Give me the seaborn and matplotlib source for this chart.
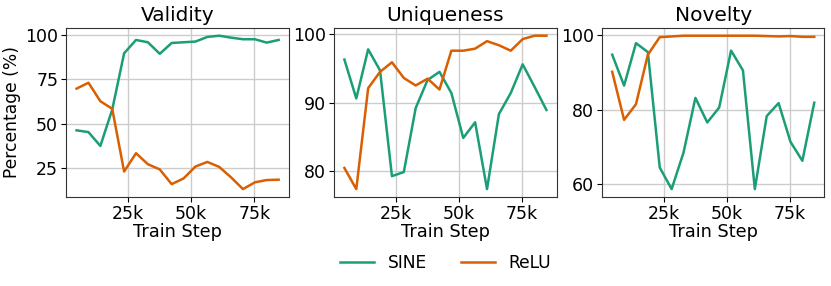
import numpy as np
import pandas as pd
import matplotlib
matplotlib.use("Agg")
import matplotlib.pyplot as plt
import seaborn as sns

# training steps (18 checkpoints)
steps = [4700, 9400, 14100, 18800, 23500, 28200, 32900, 37600, 42300,
         47000, 51700, 56400, 61100, 65800, 70500, 75200, 79900, 84600]

validity_sine = [46.3, 45.3, 37.5, 58.0, 89.7, 97.2, 95.9, 89.4, 95.5,
                 95.9, 96.3, 98.9, 99.6, 98.5, 97.6, 97.6, 95.7, 97.2]
validity_relu = [69.8, 73.1, 62.7, 58.4, 23.1, 33.4, 27.2, 24.3, 16.0,
                 19.2, 25.9, 28.5, 25.7, 19.8, 13.2, 17.0, 18.3, 18.5]

uniqueness_sine = [96.3, 90.6, 97.8, 94.7, 79.2, 79.8, 89.2, 93.3, 94.5,
                   91.4, 84.8, 87.1, 77.3, 88.3, 91.4, 95.6, 92.3, 88.9]
uniqueness_relu = [80.4, 77.3, 92.1, 94.5, 95.9, 93.6, 92.5, 93.5, 91.9,
                   97.6, 97.6, 97.9, 99.0, 98.4, 97.6, 99.3, 99.8, 99.8]

novelty_sine = [94.8, 86.5, 97.9, 95.5, 64.5, 58.7, 68.5, 83.2, 76.6,
                80.6, 95.9, 90.6, 58.7, 78.3, 81.8, 71.4, 66.3, 81.9]
novelty_relu = [90.2, 77.3, 81.5, 94.8, 99.5, 99.7, 99.9, 99.9, 99.9,
                99.9, 99.9, 99.9, 99.9, 99.8, 99.7, 99.8, 99.6, 99.6]

metrics = ['Validity', 'Uniqueness', 'Novelty']
series = {
    'Validity': (validity_sine, validity_relu),
    'Uniqueness': (uniqueness_sine, uniqueness_relu),
    'Novelty': (novelty_sine, novelty_relu),
}

rows = []
for m in metrics:
    sine, relu = series[m]
    for s, a, b in zip(steps, sine, relu):
        rows.append({'metric': m, 'step': s, 'act': 'SINE', 'value': a})
        rows.append({'metric': m, 'step': s, 'act': 'ReLU', 'value': b})
df = pd.DataFrame(rows)

palette = {'SINE': '#1b9e77', 'ReLU': '#d95f02'}

plt.rcParams['font.family'] = ['DejaVu Sans']
fig, axes = plt.subplots(1, 3, figsize=(8.31, 2.86), dpi=100)
plt.subplots_adjust(left=0.08, right=0.992, top=0.902, bottom=0.312, wspace=0.205)

for ax, m in zip(axes, metrics):
    sns.lineplot(data=df[df['metric'] == m], x='step', y='value', hue='act',
                 palette=palette, ax=ax, linewidth=1.8, legend=False)
    ax.set_title(m, fontsize=14.5, pad=5)
    ax.set_xlabel('Train Step', fontsize=12.8, labelpad=0)
    ax.set_ylabel('')
    ax.set_xticks([25000, 50000, 75000])
    ax.set_xticklabels(['25k', '50k', '75k'])
    ax.tick_params(labelsize=12.5, pad=2.5)
    ax.grid(True, color='#cccccc', linewidth=1.0)
    ax.set_axisbelow(True)
    for sp in ax.spines.values():
        sp.set_color('#333333')

axes[0].set_yticks([25, 50, 75, 100])
axes[1].set_yticks([80, 90, 100])
axes[2].set_yticks([60, 80, 100])
axes[0].set_ylabel('Percentage (%)', fontsize=12.3, labelpad=3)

handles = [plt.Line2D([], [], color=palette[k], linewidth=1.8) for k in ['SINE', 'ReLU']]
axes[1].legend(handles, ['SINE', 'ReLU'], loc='upper center', bbox_to_anchor=(0.5, -0.25),
               ncol=2, frameon=False, fontsize=12.3, columnspacing=2.0)

fig.savefig('out.png', dpi=100)
